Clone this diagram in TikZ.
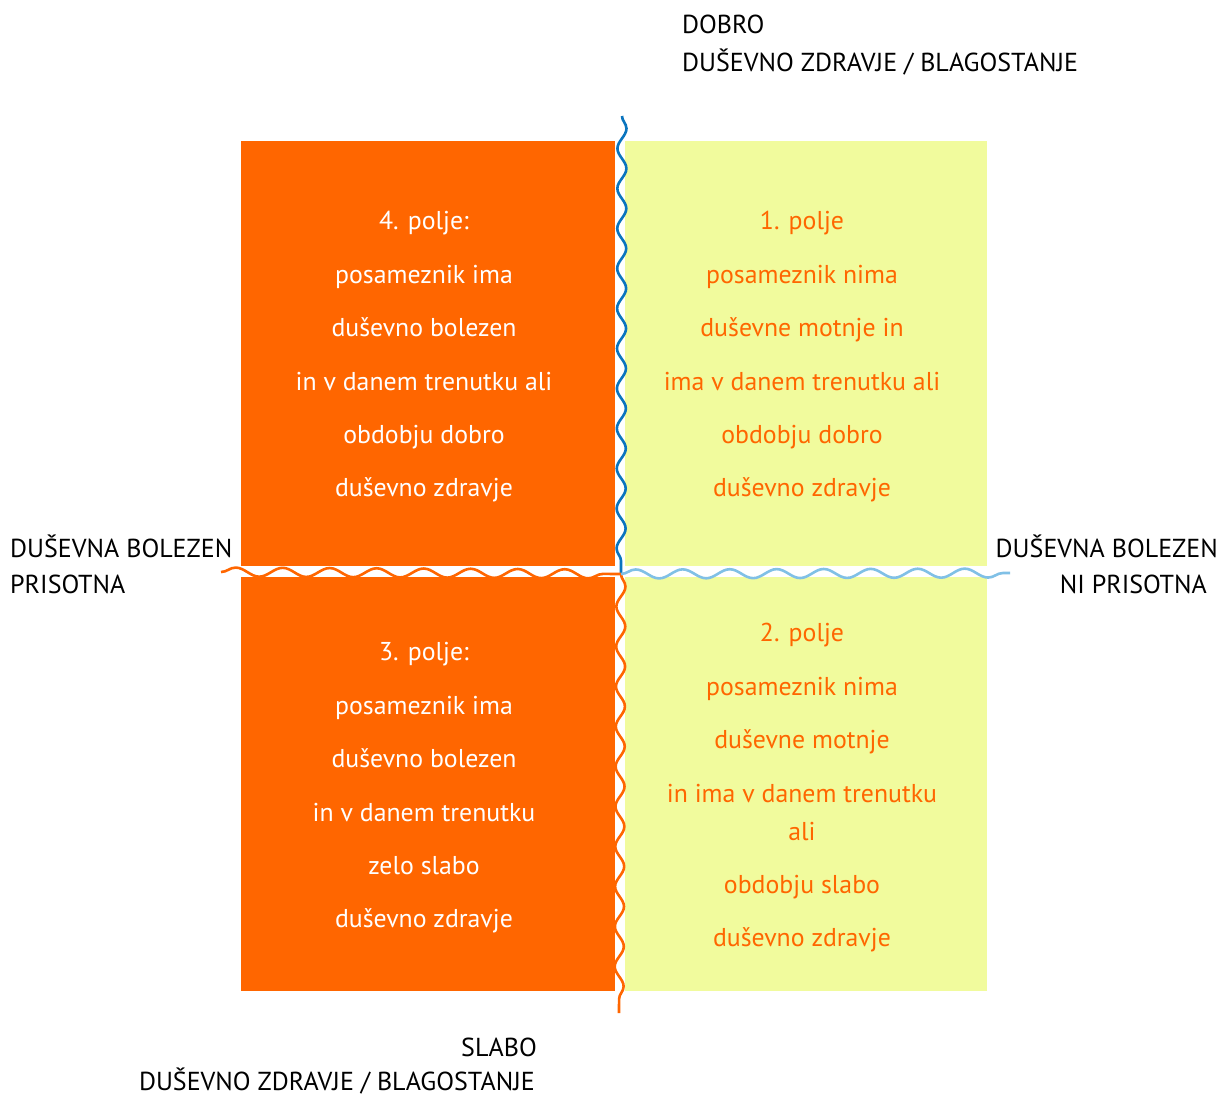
\documentclass[tikz,border=0pt]{standalone}
\usepackage{fontspec}
\setmainfont{PT Sans}
\usetikzlibrary{decorations.pathmorphing}
\definecolor{org}{HTML}{FF6600}
\definecolor{ylw}{HTML}{F1FB9D}
\definecolor{dblue}{HTML}{0A74BE}
\definecolor{lblue}{HTML}{80C0E6}
\begin{document}
\begin{tikzpicture}[x=1pt,y=-1pt,
  quad/.style={draw=none,inner sep=0pt,anchor=north west},
  lbl/.style={font=\fontsize{26}{31}\selectfont,inner sep=0pt},
  boxtext/.style={font=\fontsize{25.8}{38}\selectfont,inner sep=0pt,align=center},
  vwave/.style={line width=2.6pt,decorate,decoration={snake,amplitude=4.5pt,segment length=40pt}},
  hwave/.style={line width=2.6pt,decorate,decoration={snake,amplitude=4.5pt,segment length=47pt}},
]
\useasboundingbox[fill=white] (0,0) rectangle (1221,1095);

% quadrants
\node[quad,fill=org,minimum width=374pt,minimum height=425pt] (q4) at (241,141) {};
\node[quad,fill=ylw,minimum width=362pt,minimum height=425pt] (q1) at (625,141) {};
\node[quad,fill=org,minimum width=374pt,minimum height=414pt] (q3) at (241,577) {};
\node[quad,fill=ylw,minimum width=362pt,minimum height=414pt] (q2) at (625,577) {};

% axes
\coordinate (vt) at (622,116);
\coordinate (mid) at (621,574);
\coordinate (vb) at (619,1013);
\coordinate (hl) at (221,572);
\coordinate (hr) at (1010,573);
\draw[vwave,draw=dblue] (vt) -- (mid);
\draw[vwave,draw=org] (mid) -- (vb);
\draw[hwave,draw=org] (hl) -- (mid);
\draw[hwave,draw=lblue] (mid) -- (hr);

% quadrant texts
\node[boxtext,text=white] (t4) at (424,357) {4. polje:\\[15.4pt]posameznik ima\\[15.4pt]duševno bolezen\\[15.4pt]in v danem trenutku ali\\[15.4pt]obdobju dobro\\[15.4pt]duševno zdravje};
\node[boxtext,text=org] (t1) at (802,357) {1. polje\\[15.4pt]posameznik nima\\[15.4pt]duševne motnje in\\[15.4pt]ima v danem trenutku ali\\[15.4pt]obdobju dobro\\[15.4pt]duševno zdravje};
\node[boxtext,text=white] (t3) at (424,788) {3. polje:\\[15.4pt]posameznik ima\\[15.4pt]duševno bolezen\\[15.4pt]in v danem trenutku\\[15.4pt]zelo slabo\\[15.4pt]duševno zdravje};
\node[boxtext,text=org] (t2) at (802,788) {2. polje\\[15.4pt]posameznik nima\\[15.4pt]duševne motnje\\[15.4pt]in ima v danem trenutku\\ali\\[15.4pt]obdobju slabo\\[15.4pt]duševno zdravje};

% axis labels
\node[lbl,anchor=base west] (top1) at (682,33) {DOBRO};
\node[lbl,anchor=base west] (top2) at (682,71) {DUŠEVNO ZDRAVJE / BLAGOSTANJE};
\node[lbl,anchor=base west] (left1) at (10,557) {DUŠEVNA BOLEZEN};
\node[lbl,anchor=base west] (left2) at (10,593) {PRISOTNA};
\node[lbl,anchor=base east] (right1) at (1218,557) {DUŠEVNA BOLEZEN};
\node[lbl,anchor=base east] (right2) at (1207,593) {NI PRISOTNA};
\node[lbl,anchor=base east] (bot1) at (537,1056) {SLABO};
\node[lbl,anchor=base east] (bot2) at (535,1090) {DUŠEVNO ZDRAVJE / BLAGOSTANJE};
\end{tikzpicture}
\end{document}
